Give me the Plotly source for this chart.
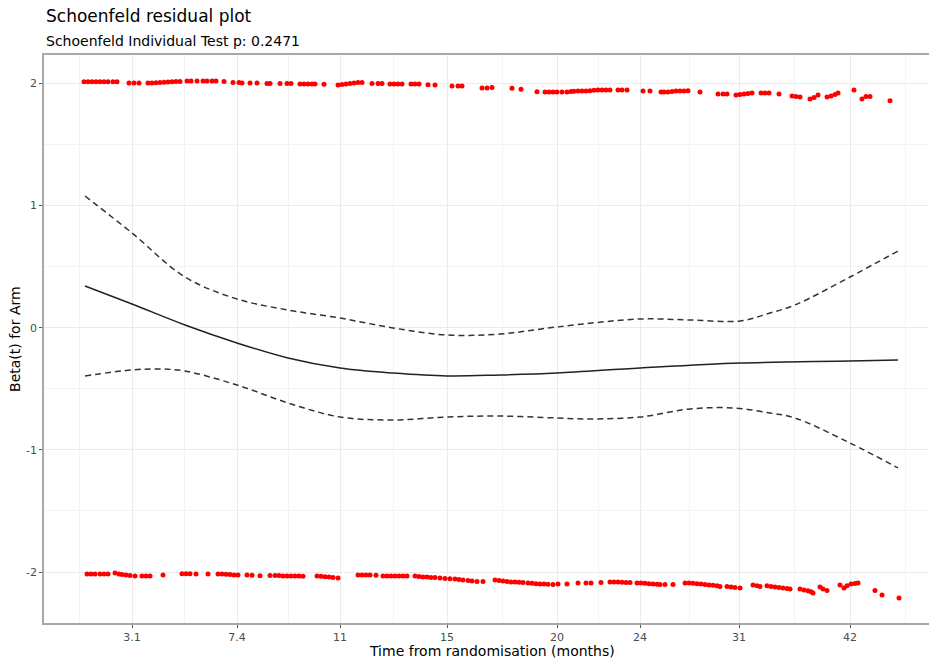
import plotly.graph_objects as go

# ---------------- data (x = transformed time scale, y = beta(t)) ----------------
tick_pos = [4.7, 15.2, 25.5, 36.2, 47.2, 55.5, 65.4, 76.5]
tick_lab = ["3.1", "7.4", "11", "15", "20", "24", "31", "42"]

top_t = [-0.1, 0.3, 0.7, 1.1, 1.5, 1.9, 2.3, 2.8, 3.2,
         4.4, 4.9, 5.4,
         6.3, 6.7, 7.1, 7.5, 7.9, 8.3, 8.7, 9.1, 9.5,
         10.2, 10.6, 11.2, 11.8, 12.2, 12.7, 13.1,
         13.9, 14.8, 15.4, 15.7, 16.5, 17.2, 18.2, 18.5, 19.5, 20.2, 20.6,
         21.5, 21.9, 22.3, 22.7, 23.0, 23.9, 25.3, 25.7, 26.1, 26.5, 26.9, 27.3, 27.7,
         28.7, 29.3, 29.7, 30.5, 30.9, 31.3, 31.7, 32.6, 33.0, 33.4, 34.3, 35.0,
         36.7, 37.3, 37.7, 39.7, 40.2, 40.7, 42.7, 43.6, 45.2,
         46.0, 46.4, 46.8, 47.2, 47.7, 48.2, 48.6, 48.9, 49.3, 49.7, 50.1, 50.5, 50.9,
         51.3, 51.7, 52.1, 52.5, 53.3, 53.7, 54.2, 55.8, 56.5,
         57.6, 57.9, 58.3, 58.7, 59.1, 59.5, 59.9, 60.3, 61.5,
         63.3, 63.8, 64.2, 65.1, 65.5, 65.9, 66.3, 66.7, 67.6, 68.0, 68.4, 69.4,
         70.7, 71.1, 71.5, 72.5, 72.9, 73.3, 74.2, 74.6, 75.0, 75.3,
         76.9, 77.7, 78.1, 78.5, 80.5]
top_y = [2.013, 2.013, 2.013, 2.013, 2.013, 2.013, 2.013, 2.013, 2.013,
         2.002, 2.002, 2.002,
         2.002, 2.002, 2.005, 2.006, 2.009, 2.011, 2.013, 2.015, 2.016,
         2.019, 2.019, 2.019, 2.019, 2.019, 2.019, 2.019,
         2.015, 2.006, 2.006, 2.002, 2.002, 2.002, 1.998, 1.999, 1.998, 1.998, 1.998,
         1.994, 1.994, 1.994, 1.994, 1.994, 1.992, 1.986, 1.990, 1.994, 1.998, 2.002, 2.006, 2.007,
         1.999, 1.998, 1.998, 1.994, 1.994, 1.994, 1.994, 1.994, 1.995, 1.994, 1.988, 1.986,
         1.978, 1.978, 1.978, 1.962, 1.962, 1.966, 1.959, 1.951, 1.932,
         1.929, 1.929, 1.929, 1.929, 1.929, 1.929, 1.933, 1.936, 1.937, 1.937, 1.937, 1.940, 1.943,
         1.946, 1.946, 1.946, 1.946, 1.946, 1.946, 1.946, 1.937, 1.937,
         1.929, 1.929, 1.929, 1.933, 1.937, 1.937, 1.937, 1.940, 1.929,
         1.913, 1.913, 1.913, 1.905, 1.909, 1.913, 1.917, 1.921, 1.921, 1.921, 1.921, 1.913,
         1.896, 1.892, 1.888, 1.872, 1.884, 1.905, 1.888, 1.896, 1.909, 1.921,
         1.946, 1.872, 1.892, 1.892, 1.858]

bot_t = [0.2, 0.6, 1.0, 1.5, 1.9, 2.3,
         3.0, 3.4, 3.7, 4.1, 4.5, 5.0,
         5.7, 6.1, 6.5, 7.8,
         9.7, 10.1, 10.5, 11.1, 12.3,
         13.3, 13.7, 14.1, 14.5, 14.9, 15.3, 16.2, 16.7, 17.5,
         18.5, 19.0, 19.4, 19.8, 20.2, 20.6, 21.0, 21.4, 21.8,
         23.2, 23.6, 24.0, 24.4, 24.8, 25.3,
         27.3, 27.7, 28.1, 28.5, 29.1,
         29.8, 30.2, 30.6, 31.0, 31.4, 31.8, 32.2,
         33.0, 33.4, 33.8, 34.2, 34.6, 35.0, 35.5, 36.0, 36.5, 37.0, 37.4, 37.8,
         38.3, 38.7, 39.2, 39.8,
         41.0, 41.4, 41.8, 42.2, 42.6, 43.0, 43.4, 43.8, 44.3, 44.7, 45.1, 45.5,
         45.9, 46.3, 46.8, 47.3, 48.2,
         49.3, 50.1, 50.6, 51.6,
         52.5, 52.9, 53.3, 53.7, 54.1, 54.5,
         55.2, 55.6, 56.0, 56.4, 56.8, 57.2, 57.5, 58.0, 58.8,
         60.0, 60.4, 60.8, 61.2, 61.6, 62.0, 62.4, 62.8, 63.2, 63.5,
         64.2, 64.6, 65.0, 65.5,
         66.8, 67.2, 67.5, 68.2, 68.6, 69.0, 69.4, 69.8, 70.2, 70.5,
         71.5, 71.9, 72.3, 72.6, 72.8,
         73.5, 73.8, 74.2,
         75.5, 75.9, 76.2, 76.6, 77.0, 77.3,
         79.0, 79.7, 81.4]
bot_y = [-2.016, -2.016, -2.016, -2.016, -2.016, -2.016,
         -2.007, -2.016, -2.020, -2.024, -2.028, -2.032,
         -2.032, -2.032, -2.032, -2.024,
         -2.014, -2.014, -2.014, -2.016, -2.016,
         -2.016, -2.016, -2.018, -2.020, -2.024, -2.024, -2.024, -2.027, -2.030,
         -2.028, -2.028, -2.028, -2.032, -2.032, -2.032, -2.032, -2.032, -2.035,
         -2.032, -2.035, -2.038, -2.040, -2.044, -2.048,
         -2.024, -2.024, -2.024, -2.024, -2.027,
         -2.032, -2.032, -2.032, -2.032, -2.032, -2.032, -2.032,
         -2.032, -2.036, -2.040, -2.040, -2.044, -2.044, -2.048, -2.052, -2.054, -2.056, -2.061, -2.065,
         -2.069, -2.073, -2.078, -2.078,
         -2.065, -2.069, -2.073, -2.077, -2.081, -2.081, -2.083, -2.086, -2.089, -2.091, -2.095, -2.097,
         -2.097, -2.099, -2.102, -2.097, -2.097,
         -2.089, -2.089, -2.089, -2.086,
         -2.081, -2.081, -2.081, -2.083, -2.085, -2.086,
         -2.089, -2.089, -2.091, -2.095, -2.097, -2.099, -2.102, -2.102, -2.102,
         -2.089, -2.089, -2.091, -2.095, -2.097, -2.101, -2.105, -2.109, -2.113, -2.118,
         -2.118, -2.122, -2.126, -2.130,
         -2.105, -2.113, -2.118, -2.113, -2.118, -2.122, -2.126, -2.130, -2.134, -2.138,
         -2.138, -2.146, -2.154, -2.162, -2.171,
         -2.122, -2.138, -2.152,
         -2.105, -2.130, -2.113, -2.097, -2.093, -2.089,
         -2.152, -2.187, -2.212]

fit_t = [0.0, 4.7, 10.0, 15.2, 20.3, 25.5, 30.8, 36.2, 41.5, 47.2, 55.5, 65.5, 76.5, 81.3]
fit_y = [0.341, 0.194, 0.022, -0.125, -0.248, -0.330, -0.371, -0.395, -0.387, -0.371,
         -0.330, -0.289, -0.273, -0.264]

up_t = [0.0, 4.7, 10.0, 15.2, 20.3, 25.5, 30.8, 36.2, 41.5, 47.2, 55.5, 60.5, 65.5, 68.5,
        71.0, 76.5, 81.3]
up_y = [1.078, 0.775, 0.415, 0.235, 0.145, 0.079, -0.002, -0.060, -0.052, 0.006, 0.071,
        0.063, 0.055, 0.120, 0.186, 0.415, 0.628]

lo_t = [0.0, 4.7, 7.5, 10.0, 15.2, 20.3, 25.5, 30.8, 36.2, 41.5, 47.2, 50.5, 55.5, 60.5,
        64.8, 68.5, 71.0, 76.5, 81.3]
lo_y = [-0.395, -0.346, -0.338, -0.355, -0.469, -0.616, -0.731, -0.755, -0.731, -0.723,
        -0.739, -0.747, -0.731, -0.665, -0.657, -0.698, -0.739, -0.944, -1.148]

# ---------------- figure ----------------
fig = go.Figure()

fig.add_trace(go.Scatter(x=top_t + bot_t, y=top_y + bot_y, mode="markers",
                         marker=dict(color="#ff0000", size=5, line=dict(width=0)),
                         showlegend=False, hoverinfo="skip"))
fig.add_trace(go.Scatter(x=fit_t, y=fit_y, mode="lines",
                         line=dict(color="#222222", width=1.5, shape="spline"),
                         showlegend=False))
for tt, yy in ((up_t, up_y), (lo_t, lo_y)):
    fig.add_trace(go.Scatter(x=tt, y=yy, mode="lines",
                             line=dict(color="#333333", width=1.5, dash="6px,4px",
                                       shape="spline"),
                             showlegend=False))

# minor grid positions: midpoints of major ticks plus one step beyond each end
minor = [tick_pos[0] - (tick_pos[1] - tick_pos[0]) / 2]
minor += [(a + b) / 2 for a, b in zip(tick_pos[:-1], tick_pos[1:])]
minor += [tick_pos[-1] + (tick_pos[-1] - tick_pos[-2]) / 2]

font_family = "DejaVu Sans"
axis_line = "#a8a8a8"

fig.update_layout(
    width=929, height=662,
    margin=dict(l=44, r=0, t=55, b=39),
    paper_bgcolor="white", plot_bgcolor="white",
    font=dict(family=font_family, color="#000000"),
    xaxis=dict(range=[-4.1, 84.4], tickmode="array", tickvals=tick_pos, ticktext=tick_lab,
               showgrid=True, gridcolor="#ebebeb", gridwidth=1,
               minor=dict(tickmode="array", tickvals=minor, showgrid=True,
                          gridcolor="#f3f3f3", gridwidth=1, ticks=""),
               showline=True, linecolor=axis_line, linewidth=1.5, mirror=True,
               ticks="outside", ticklen=3, tickcolor="#555555", tickwidth=1,
               tickfont=dict(size=11, color="#4d4d4d", family=font_family),
               zeroline=False, fixedrange=True),
    yaxis=dict(range=[-2.417, 2.232], tickmode="array", tickvals=[-2, -1, 0, 1, 2],
               ticktext=["-2", "-1", "0", "1", "2"],
               showgrid=True, gridcolor="#ebebeb", gridwidth=1,
               minor=dict(tickmode="array", tickvals=[-1.5, -0.5, 0.5, 1.5], showgrid=True,
                          gridcolor="#f3f3f3", gridwidth=1, ticks=""),
               showline=True, linecolor=axis_line, linewidth=1.5, mirror=False,
               ticks="outside", ticklen=3, tickcolor="#555555", tickwidth=1,
               tickfont=dict(size=11, color="#4d4d4d", family=font_family),
               zeroline=False, fixedrange=True),
    annotations=[
        dict(text="Schoenfeld residual plot", xref="paper", yref="paper", x=0, y=1.0687,
             xanchor="left", yanchor="middle", showarrow=False,
             font=dict(size=17, family=font_family, color="#000000")),
        dict(text="Schoenfeld Individual Test p: 0.2471", xref="paper", yref="paper",
             x=0, y=1.0246, xanchor="left", yanchor="middle", showarrow=False,
             font=dict(size=14, family=font_family, color="#000000")),
        dict(text="Time from randomisation (months)", xref="paper", yref="paper",
             x=0.506, y=-0.0493, xanchor="center", yanchor="middle", showarrow=False,
             font=dict(size=14, family=font_family, color="#000000")),
        dict(text="Beta(t) for Arm", xref="paper", yref="paper", x=-0.0328, y=0.5,
             xanchor="center", yanchor="middle", textangle=-90, showarrow=False,
             font=dict(size=14, family=font_family, color="#000000")),
    ],
)

fig.write_html("out.html")
